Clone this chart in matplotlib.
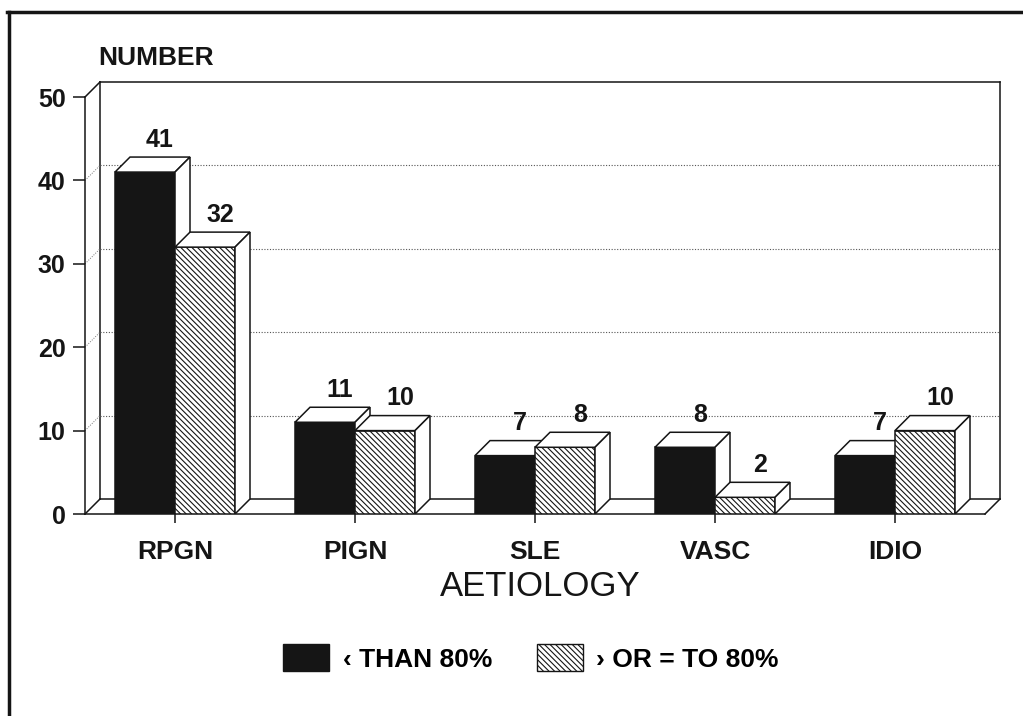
import matplotlib
matplotlib.use("Agg")
import matplotlib.pyplot as plt
from matplotlib.patches import Polygon, Rectangle, Patch
from matplotlib.lines import Line2D

categories = ["RPGN", "PIGN", "SLE", "VASC", "IDIO"]
below80 = [41, 11, 7, 8, 7]      # < than 80%
atleast80 = [32, 10, 8, 2, 10]   # > or = to 80%
yticks = [0, 10, 20, 30, 40, 50]
series_labels = ["\u2039 THAN 80%", "\u203a OR = TO 80%"]

plt.rcParams["font.family"] = ["Liberation Sans", "DejaVu Sans"]
plt.rcParams["hatch.linewidth"] = 0.8

W, H = 1023, 716
fig = plt.figure(figsize=(W / 100, H / 100), dpi=100)
fig.patch.set_facecolor("white")

bw = 1 / 3      # bar width in category units
dx = 15 / 180   # depth offset, x
dy = 1.8        # depth offset, y
ink = "#151515"
hatch = "\\" * 6

ax = fig.add_axes([85 / W, (H - 514) / H, 915 / W, 432 / H])
ax.set_xlim(-0.5, 4.5 + dx)
ax.set_ylim(0, 50 + dy)
ax.set_facecolor("none")

# walls of the 3d box
x0, x1 = -0.5, 4.5
kw = dict(color=ink, lw=1.1, clip_on=False)
ax.plot([x0 + dx, x1 + dx], [50 + dy, 50 + dy], **kw)
ax.plot([x0 + dx, x0 + dx], [dy, 50 + dy], **kw)
ax.plot([x1 + dx, x1 + dx], [dy, 50 + dy], **kw)
ax.plot([x0 + dx, x1 + dx], [dy, dy], **kw)
ax.plot([x0, x0 + dx], [0, dy], **kw)
ax.plot([x1, x1 + dx], [0, dy], **kw)
ax.plot([x0, x0 + dx], [50, 50 + dy], **kw)
for t in yticks[1:-1]:
    ax.plot([x0 + dx, x1 + dx], [t + dy, t + dy], color="#555555", lw=0.8,
            ls=(0, (1, 1.5)), clip_on=False)
    ax.plot([x0, x0 + dx], [t, t + dy], color="#777777", lw=0.7,
            ls=(0, (1, 1.5)), clip_on=False)


def bar3d(xl, v, face, htch):
    ax.add_patch(Rectangle((xl, 0), bw, v, facecolor=face, edgecolor=ink,
                           hatch=htch, lw=1.1, zorder=3))
    ax.add_patch(Polygon([(xl, v), (xl + dx, v + dy), (xl + bw + dx, v + dy),
                          (xl + bw, v)], closed=True, fc="white", ec=ink,
                         lw=1.1, zorder=3))
    ax.add_patch(Polygon([(xl + bw, 0), (xl + bw, v), (xl + bw + dx, v + dy),
                          (xl + bw + dx, dy)], closed=True, fc="white", ec=ink,
                         lw=1.1, zorder=3))
    ax.annotate(str(v), (xl + bw / 2 + dx, v + dy), xytext=(0, 4),
                textcoords="offset points", ha="center", va="bottom",
                fontsize=18, fontweight="bold", color=ink, zorder=4)


for i in range(len(categories)):
    bar3d(i - bw, below80[i], ink, None)
    bar3d(i, atleast80[i], "white", hatch)

for s in ["top", "right"]:
    ax.spines[s].set_visible(False)
ax.spines["left"].set_bounds(0, 50)
ax.spines["bottom"].set_bounds(x0, x1)
for s in ["left", "bottom"]:
    ax.spines[s].set_color(ink)
    ax.spines[s].set_linewidth(1.1)

ax.set_yticks(yticks)
ax.set_yticklabels([str(t) for t in yticks], fontsize=18, fontweight="bold")
ax.set_xticks(range(len(categories)))
ax.set_xticklabels(categories, fontsize=19, fontweight="bold")
ax.tick_params(axis="y", length=9, width=1.1, pad=5, colors=ink)
ax.tick_params(axis="x", length=6.5, width=1.1, pad=12, colors=ink)

fig.text(98 / W, 1 - 58 / H, "NUMBER", fontsize=19, fontweight="bold",
         ha="left", va="center", color=ink)
fig.text(540 / W, 1 - 587 / H, "AETIOLOGY", fontsize=25, ha="center",
         va="center", color=ink)

handles = [Patch(facecolor=ink, edgecolor=ink),
           Patch(facecolor="white", edgecolor=ink, hatch=hatch)]
ax.legend(handles, series_labels, loc="center", ncol=2,
          bbox_to_anchor=(531 / W, 1 - 658 / H), bbox_transform=fig.transFigure,
          frameon=False, prop={"size": 19, "weight": "bold"},
          handlelength=1.75, handleheight=1.15, handletextpad=0.5,
          columnspacing=1.7)

# page frame
fig.add_artist(Line2D([7 / W, 1], [1 - 12 / H, 1 - 12 / H], color=ink, lw=2.5))
fig.add_artist(Line2D([9 / W, 9 / W], [0, 1 - 12 / H], color=ink, lw=2.5))

fig.savefig("out.png", dpi=100)
